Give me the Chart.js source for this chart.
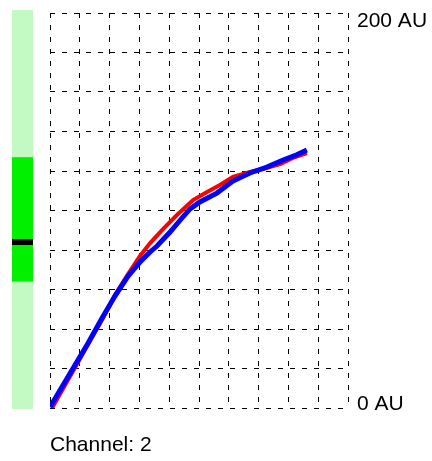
<!DOCTYPE html>
<html>
<head>
<meta charset="utf-8">
<script src="https://cdn.jsdelivr.net/npm/chart.js@4/dist/chart.umd.min.js"></script>
<style>
  html, body { margin: 0; padding: 0; background: #ffffff; }
  #wrap { position: relative; width: 432px; height: 461px; }
</style>
</head>
<body>
<div id="wrap"><canvas id="chart"></canvas></div>
<script>
// Channel 2 response (x in grid divisions, y in AU)
const blueX = [0.00, 0.40, 0.84, 1.28, 1.71, 2.18, 2.62, 3.02, 3.36, 3.59, 4.03, 4.43, 4.70, 5.03, 5.60, 6.14, 6.71, 7.28, 7.82, 8.26, 8.62];
const blueY = [0.5, 10.6, 21.8, 32.9, 44.6, 56.7, 66.8, 73.9, 79.0, 82.0, 89.1, 96.2, 100.8, 104.3, 108.8, 114.9, 119.0, 122.0, 125.6, 128.1, 130.6];

const redX = [0.07, 0.47, 0.91, 1.34, 1.78, 2.18, 2.62, 3.02, 3.36, 3.79, 4.26, 4.80, 5.27, 5.70, 6.14, 6.71, 7.25, 7.72, 8.15, 8.62];
const redY = [0.0, 10.6, 22.3, 33.9, 45.6, 57.2, 67.8, 77.0, 83.5, 90.6, 97.7, 105.3, 109.4, 112.9, 117.0, 119.5, 121.5, 123.5, 126.6, 129.1];

// axis
const xMin = 0, xMax = 10, xStep = 1;
const yMin = 0, yMax = 200, yStep = 20;
const yLabelValues = [0, 200];
const yUnit = 'AU';
const channelLabel = 'Channel: 2';

// level meter on the left (AU)
const meterTrack = [-0.5, 201.5];
const meterRange = [64, 127];
const meterLevel = 84;

const toPoints = (xs, ys) => xs.map((x, i) => ({ x: x, y: ys[i] }));

const FONT = '"Liberation Sans", Arial, sans-serif';

// draws the green level bar left of the plot
const meterPlugin = {
    id: 'meter',
    beforeDraw(chart) {
        const ctx = chart.ctx;
        const y = chart.scales.y;
        const left = 12, width = 21;
        ctx.save();
        const t0 = y.getPixelForValue(meterTrack[1]);
        const t1 = y.getPixelForValue(meterTrack[0]);
        ctx.fillStyle = '#c3fac3';
        ctx.fillRect(left, t0, width, t1 - t0);
        const r0 = y.getPixelForValue(meterRange[1]);
        const r1 = y.getPixelForValue(meterRange[0]);
        ctx.fillStyle = '#00f000';
        ctx.fillRect(left, r0, width, r1 - r0);
        const m = y.getPixelForValue(meterLevel);
        ctx.fillStyle = '#000000';
        ctx.fillRect(left, Math.round(m) - 3, width, 6);
        ctx.restore();
    }
};

new Chart(document.getElementById('chart').getContext('2d'), {
    type: 'line',
    data: {
        datasets: [
            {
                label: 'red',
                data: toPoints(redX, redY),
                borderColor: '#ff0000',
                borderWidth: 4,
                pointRadius: 0,
                tension: 0,
                order: 2
            },
            {
                label: 'blue',
                data: toPoints(blueX, blueY),
                borderColor: '#0000ff',
                borderWidth: 5,
                pointRadius: 0,
                tension: 0,
                order: 1
            }
        ]
    },
    options: {
        responsive: true,
        maintainAspectRatio: false,
        animation: false,
        layout: { padding: { left: 50, top: 13, right: 0, bottom: 0 } },
        plugins: {
            legend: { display: false },
            tooltip: { enabled: false }
        },
        scales: {
            x: {
                type: 'linear',
                min: xMin,
                max: xMax,
                grid: { color: '#000000', lineWidth: 1, drawTicks: false },
                border: { display: false, dash: [5, 7] },
                ticks: { display: false, stepSize: xStep },
                title: {
                    display: true,
                    text: channelLabel,
                    align: 'start',
                    color: '#000000',
                    font: { family: FONT, size: 21, lineHeight: 1.2 },
                    padding: { top: 0, bottom: 3 }
                },
                afterFit(scale) {
                    scale.height = 53;
                    scale.paddingLeft = 0;
                    scale.paddingRight = 0;
                }
            },
            y: {
                position: 'right',
                min: yMin,
                max: yMax,
                grid: { color: '#000000', lineWidth: 1, drawTicks: false },
                border: { display: false, dash: [5, 7] },
                ticks: {
                    stepSize: yStep,
                    autoSkip: false,
                    padding: 9,
                    color: '#000000',
                    labelOffset: 2,
                    font: { family: FONT, size: 21, lineHeight: '12px' },
                    callback: function(value) {
                        if (!yLabelValues.includes(value)) return '';
                        const txt = value + ' ' + yUnit;
                        // top label sits below its line, bottom label above
                        return value === yMax ? ['', txt] : [txt, ''];
                    }
                },
                afterFit(scale) {
                    scale.width = 84;
                    scale.paddingTop = 0;
                    scale.paddingBottom = 0;
                }
            }
        }
    },
    plugins: [meterPlugin]
});
</script>
</body>
</html>
